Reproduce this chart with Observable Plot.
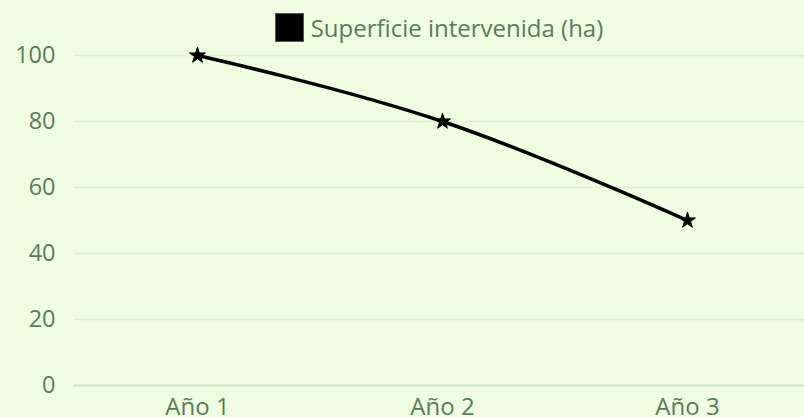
<!DOCTYPE html>
<html>
<head>
<meta charset="utf-8">
<script src="https://cdn.jsdelivr.net/npm/d3@7"></script>
<script src="https://cdn.jsdelivr.net/npm/@observablehq/plot@0.6"></script>
<style>
  html, body { margin: 0; padding: 0; background: #f0fde1; }
  body { width: 804px; height: 417px; overflow: hidden; font-family: "Open Sans", sans-serif; }
  #legend { height: 45px; box-sizing: border-box; padding-left: 74px; display: flex; justify-content: center; align-items: flex-start; }
  #legend .item { display: flex; align-items: center; margin-top: 13px; color: #5a7c5a; font-size: 24px; line-height: 29px; }
  #legend .sw { width: 29px; height: 29px; background: #000; border: 1px solid #555; box-sizing: border-box; margin-right: 7px; }
  svg { display: block; }
</style>
</head>
<body>
<div id="legend"></div>
<div id="chart"></div>
<script>
const categories = ["Año 1", "Año 2", "Año 3"];
const values = [100, 80, 50];
const seriesName = "Superficie intervenida (ha)";
const yTicks = [0, 20, 40, 60, 80, 100];

const data = categories.map((c, i) => ({ year: c, value: values[i] }));

const legend = document.getElementById("legend");
legend.innerHTML = `<div class="item"><span class="sw"></span><span>${seriesName}</span></div>`;

const chart = Plot.plot({
  width: 804,
  height: 372,
  marginLeft: 74,
  marginRight: 0,
  marginTop: 10,
  marginBottom: 32,
  insetRight: -5,
  style: { background: "transparent", fontFamily: "Open Sans, sans-serif", fontSize: "23.5px", color: "#5a7c5a", overflow: "visible" },
  x: { type: "point", domain: categories, padding: 0.5, label: null },
  y: { domain: [0, 100], label: null },
  marks: [
    Plot.gridY(yTicks.filter(d => d !== 0), { stroke: "#e0eed3", strokeOpacity: 1, strokeWidth: 1.5 }),
    Plot.ruleY([0], { stroke: "#d6e6c8", strokeWidth: 2.5 }),
    Plot.axisY(yTicks, { tickSize: 0, tickPadding: 19, fill: "#5a7c5a", fontSize: 23.5, label: null }),
    Plot.axisX(categories, { tickSize: 0, tickPadding: 12, fill: "#5a7c5a", fontSize: 24, label: null }),
    Plot.line(data, { x: "year", y: "value", stroke: "#000", strokeWidth: 3.5, curve: "cardinal", tension: -0.2 }),
    Plot.dot(data, { x: "year", y: "value", symbol: "star", r: 5, fill: "#000", stroke: "#000", strokeWidth: 1 })
  ]
});
document.getElementById("chart").appendChild(chart);
</script>
</body>
</html>
